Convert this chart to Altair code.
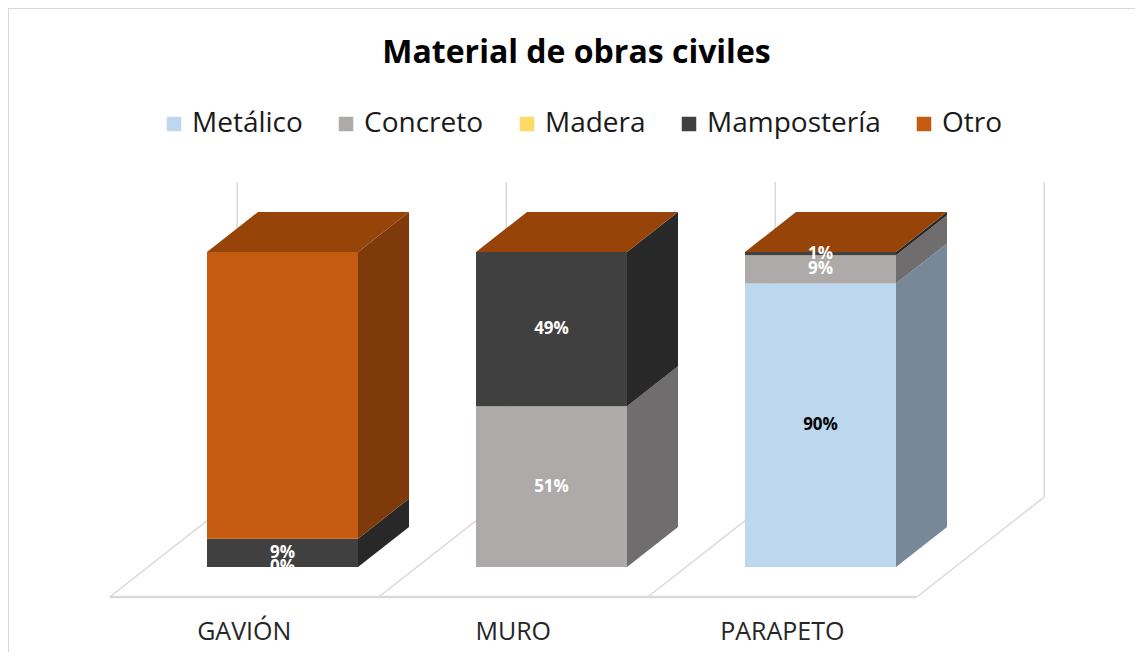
import altair as alt
import pandas as pd

# ---------------- data ----------------
categories = ["GAVIÓN", "MURO", "PARAPETO"]
series = ["Metálico", "Concreto", "Madera", "Mampostería", "Otro"]
metalico = [0, 0, 90]
concreto = [0, 51, 9]
madera = [0, 0, 0]
mamposteria = [9, 49, 1]
otro = [91, 0, 0]
# data labels that are shown in the original (category, series)
label_cats = ["GAVIÓN", "GAVIÓN", "MURO", "MURO", "PARAPETO", "PARAPETO", "PARAPETO"]
label_series = ["Concreto", "Mampostería", "Concreto", "Mampostería", "Metálico", "Concreto", "Mampostería"]

# ---------------- styles ----------------
front_colors = ["#BDD7EE", "#AEAAAA", "#FFD966", "#404040", "#C55A11"]
side_colors = ["#778898", "#6F6D6D", "#A88D3F", "#282828", "#7F3A0B"]
top_color = "#974409"
label_text_colors = ["#000000", "#FFFFFF", "#000000", "#FFFFFF", "#FFFFFF"]
grid_color = "#D9D9D9"
FONT = "Open Sans"

# ---------------- geometry (pixel -> data units) ----------------
W, H = 1127, 644
PX_PER_CAT = 269.0
PX_PER_PCT = 3.15
X0_PX, Y0_PX = 274.5, 559.0
XMIN = -X0_PX / PX_PER_CAT
XMAX = (W - X0_PX) / PX_PER_CAT
YMAX = Y0_PX / PX_PER_PCT
YMIN = -(H - Y0_PX) / PX_PER_PCT
HALF = 75.5 / PX_PER_CAT          # half bar width
KX = 51.0 / PX_PER_CAT            # depth offset (x) for one bar depth
KY = 40.0 / PX_PER_PCT            # depth offset (y) for one bar depth
FLOOR_FRONT = -0.75
FLOOR_BACK = 1.75
LABEL_Y = -20.6

values = {
    "Metálico": metalico,
    "Concreto": concreto,
    "Madera": madera,
    "Mampostería": mamposteria,
    "Otro": otro,
}

xs = alt.Scale(domain=[XMIN, XMAX], nice=False, zero=False)
ys = alt.Scale(domain=[YMIN, YMAX], nice=False, zero=False)

front_rows, side_rows, top_rows, lab_rows = [], [], [], []
for i, cat in enumerate(categories):
    base = 0.0
    for k, s in enumerate(series):
        v = values[s][i]
        lo, hi = base, base + v
        if v > 0:
            front_rows.append(dict(cat=cat, series=s, xl=i - HALF, xr=i + HALF, lo=lo, hi=hi))
            seg = f"{cat}-{s}"
            side_rows.append(dict(seg=seg, x=i + HALF, lo=lo, hi=hi, c=side_colors[k]))
            side_rows.append(dict(seg=seg, x=i + HALF + KX, lo=lo + KY, hi=hi + KY, c=side_colors[k]))
        for lc, ls in zip(label_cats, label_series):
            if lc == cat and ls == s:
                lab_rows.append(dict(x=i, y=(lo + hi) / 2, t=f"{v}%", c=label_text_colors[k]))
        base = hi
    top_rows.append(dict(cat=cat, y=base, xl=i - HALF, xr=i + HALF))
    top_rows.append(dict(cat=cat, y=base + KY, xl=i - HALF + KX, xr=i + HALF + KX))

front_df = pd.DataFrame(front_rows)
side_df = pd.DataFrame(side_rows)
top_df = pd.DataFrame(top_rows)
lab_df = pd.DataFrame(lab_rows)

bounds = [-0.5 + j for j in range(len(categories) + 1)]
floor_rows = []
for j, b in enumerate(bounds):
    floor_rows.append(dict(b=j, x=b + FLOOR_FRONT * KX, y=FLOOR_FRONT * KY))
    floor_rows.append(dict(b=j, x=b + FLOOR_BACK * KX, y=FLOOR_BACK * KY))
floor_df = pd.DataFrame(floor_rows)
wall_df = pd.DataFrame(dict(x=[b + FLOOR_BACK * KX for b in bounds],
                            y=[FLOOR_BACK * KY] * len(bounds),
                            y2=[100 + FLOOR_BACK * KY] * len(bounds)))
edge_df = pd.DataFrame(dict(x=[bounds[0] + FLOOR_FRONT * KX], x2=[bounds[-1] + FLOOR_FRONT * KX],
                            y=[FLOOR_FRONT * KY]))
cat_df = pd.DataFrame(dict(cat=categories,
                           x=[i + FLOOR_FRONT * KX for i in range(len(categories))],
                           y=[LABEL_Y] * len(categories)))
border_df = pd.DataFrame(dict(x=[XMIN], x2=[XMAX], y=[YMAX], y2=[YMIN]))

X = lambda f: alt.X(f, type="quantitative", scale=xs, axis=None)
Y = lambda f: alt.Y(f, type="quantitative", scale=ys, axis=None)

border_top = alt.Chart(border_df).mark_rule(color=grid_color, strokeWidth=2).encode(
    x=X("x"), x2="x2", y=Y("y"))
border_left = alt.Chart(border_df).mark_rule(color=grid_color, strokeWidth=2).encode(
    x=X("x"), y=Y("y"), y2="y2")

walls = alt.Chart(wall_df).mark_rule(color=grid_color, strokeWidth=1.5).encode(
    x=X("x"), y=Y("y"), y2="y2")
floor = alt.Chart(floor_df).mark_line(color=grid_color, strokeWidth=1.5).encode(
    x=X("x"), y=Y("y"), detail="b:N")
edge = alt.Chart(edge_df).mark_rule(color=grid_color, strokeWidth=2.5).encode(
    x=X("x"), x2="x2", y=Y("y"))

front = alt.Chart(front_df).mark_rect().encode(
    x=X("xl"), x2="xr", y=Y("lo"), y2="hi",
    color=alt.Color("series:N",
                    scale=alt.Scale(domain=series, range=front_colors),
                    legend=alt.Legend(orient="none", legendX=152, legendY=102,
                                      direction="horizontal", title=None,
                                      symbolType="square", symbolSize=210,
                                      symbolStrokeWidth=0, labelFont=FONT,
                                      labelFontSize=28, labelColor="#1a1a1a",
                                      labelLimit=0, labelOffset=4,
                                      columnPadding=29, padding=0)),
)
side = alt.Chart(side_df).mark_area(orient="vertical").encode(
    x=X("x"), y=Y("lo"), y2="hi", detail="seg:N",
    fill=alt.Fill("c:N", scale=None))
top = alt.Chart(top_df).mark_area(orient="horizontal", color=top_color).encode(
    y=Y("y"), x=X("xl"), x2="xr", detail="cat:N")
labels = alt.Chart(lab_df).mark_text(font=FONT, fontSize=17, fontWeight="bold").encode(
    x=X("x"), y=Y("y"), text="t:N", color=alt.Color("c:N", scale=None))
cats = alt.Chart(cat_df).mark_text(font=FONT, fontSize=25, color="#262626").encode(
    x=X("x"), y=Y("y"), text="cat:N")

chart = alt.layer(border_top, border_left, walls, floor, edge, side, top, front, labels, cats).properties(
    width=W, height=H, padding=0,
    autosize=alt.AutoSizeParams(type="none"),
    title=alt.TitleParams("Material de obras civiles", font=FONT, fontSize=32,
                          fontWeight="bold", color="#000000", anchor="middle", dy=67, dx=5),
).configure_view(stroke=None).configure(background="#FFFFFF")

chart.save("out.html", embed_options={"renderer": "svg", "actions": False})
